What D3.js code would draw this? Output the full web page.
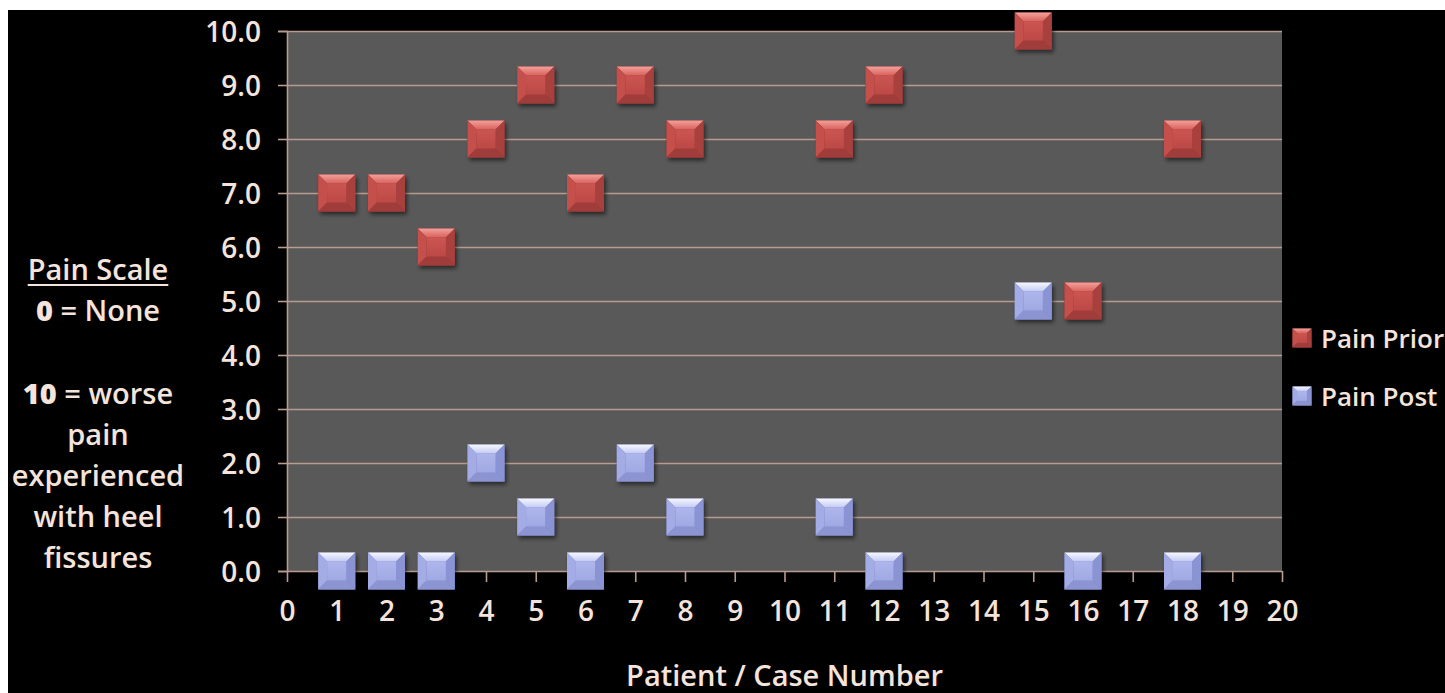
<!DOCTYPE html>
<html><head><meta charset="utf-8">
<script src="https://cdn.jsdelivr.net/npm/d3@7"></script>
<style>
html,body{margin:0;padding:0;background:#ffffff;}
svg{display:block;}
text{font-family:"Open Sans","DejaVu Sans",sans-serif;}
</style></head>
<body>
<svg id="chart" width="1445" height="693"></svg>
<script>
const patients   = [1, 2, 3, 4, 5, 6, 7, 8, 11, 12, 15, 16, 18];
const painPrior  = [7, 7, 6, 8, 9, 7, 9, 8, 8, 9, 10, 5, 8];
const painPost   = [0, 0, 0, 2, 1, 0, 2, 1, 1, 0, 5, 0, 0];
const xTicks = d3.range(0, 21);
const yTicks = [0,1,2,3,4,5,6,7,8,9,10];
const seriesNames = ["Pain Prior", "Pain Post"];
const noteLines = [
  {bold:"", rest:"Pain Scale", underline:true},
  {bold:"0", rest:" = None"},
  {bold:"", rest:""},
  {bold:"10", rest:" = worse"},
  {bold:"", rest:"pain"},
  {bold:"", rest:"experienced"},
  {bold:"", rest:"with heel"},
  {bold:"", rest:"fissures"}
];

const TXT = "#f4e4dc";
const GRID = "#b89c90";
const svg = d3.select("#chart");

svg.append("rect").attr("x",8).attr("y",10).attr("width",1437).attr("height",683).attr("fill","#000");

const x = d3.scaleLinear().domain([0,20]).range([287,1282]);
const y = d3.scaleLinear().domain([0,10]).range([571,31]);

const defs = svg.append("defs");
const f = defs.append("filter").attr("id","shadow").attr("x","-30%").attr("y","-30%").attr("width","170%").attr("height","170%");
f.append("feDropShadow").attr("dx",2).attr("dy",3).attr("stdDeviation",2.2).attr("flood-color","#000").attr("flood-opacity",0.55);

function grad(id, c1, c2){
  const g = defs.append("linearGradient").attr("id",id).attr("x1",0).attr("y1",0).attr("x2",0).attr("y2",1);
  g.append("stop").attr("offset","0%").attr("stop-color",c1);
  g.append("stop").attr("offset","100%").attr("stop-color",c2);
}
grad("redTop","#f4a09a","#d8625d");
grad("blueTop","#f6f8ff","#c4cbf4");
grad("redBody","#cc5551","#bc4946");
grad("blueBody","#aeb6ec","#a0a9e3");

svg.append("rect").attr("x",x(0)).attr("y",y(10)).attr("width",x(20)-x(0)).attr("height",y(0)-y(10)).attr("fill","#595959");

svg.append("g").attr("transform",`translate(${x(0)},0)`)
  .call(d3.axisLeft(y).tickValues(yTicks.filter(v=>v>0)).tickSize(-(x(20)-x(0))).tickFormat(""))
  .call(g=>g.select(".domain").remove())
  .call(g=>g.selectAll("line").attr("stroke",GRID).attr("stroke-width",1.6));

const ya = svg.append("g").attr("transform",`translate(${x(0)},0)`)
  .call(d3.axisLeft(y).tickValues(yTicks).tickSize(9).tickPadding(17).tickFormat(d3.format(".1f")));
ya.select(".domain").attr("stroke",GRID).attr("stroke-width",1.6);
ya.selectAll("line").attr("stroke",GRID).attr("stroke-width",1.6);
ya.selectAll("text").attr("fill",TXT).attr("font-size",28).attr("font-weight",600).attr("dy","0.36em");

const xa = svg.append("g").attr("transform",`translate(0,${y(0)})`)
  .call(d3.axisBottom(x).tickValues(xTicks).tickSize(11).tickPadding(29).tickSizeOuter(0));
xa.select(".domain").attr("stroke",GRID).attr("stroke-width",1.6);
xa.selectAll("line").attr("stroke",GRID).attr("stroke-width",1.6);
xa.selectAll("text").attr("fill",TXT).attr("font-size",28).attr("font-weight",600).attr("dy","0.36em");

svg.append("text").attr("x",(x(0)+x(20))/2).attr("y",686).attr("text-anchor","middle")
  .attr("fill",TXT).attr("font-size",29).attr("font-weight",600).text("Patient / Case Number");

const pal = {
  red:  {top:"url(#redTop)", body:"url(#redBody)", left:"#c44f4b", right:"#a8413e", bottom:"#a03d3a", edge:"#8e3431"},
  blue: {top:"url(#blueTop)", body:"url(#blueBody)", left:"#a4ace6", right:"#8a94d4", bottom:"#8c95d2", edge:"#6f79bd"}
};
function marker(g, s, p){
  const h = s/2, b = s*0.24;
  g.append("rect").attr("x",-h).attr("y",-h).attr("width",s).attr("height",s).attr("fill",p.edge).attr("filter","url(#shadow)");
  g.append("path").attr("d",`M${-h},${-h}L${h},${-h}L${h-b},${-h+b}L${-h+b},${-h+b}Z`).attr("fill",p.top);
  g.append("path").attr("d",`M${-h},${-h}L${-h+b},${-h+b}L${-h+b},${h-b}L${-h},${h}Z`).attr("fill",p.left);
  g.append("path").attr("d",`M${h},${-h}L${h-b},${-h+b}L${h-b},${h-b}L${h},${h}Z`).attr("fill",p.right);
  g.append("path").attr("d",`M${-h},${h}L${-h+b},${h-b}L${h-b},${h-b}L${h},${h}Z`).attr("fill",p.bottom);
  g.append("rect").attr("x",-h+b).attr("y",-h+b).attr("width",s-2*b).attr("height",s-2*b).attr("fill",p.body);
}

const series = [
  {name:seriesNames[0], vals:painPrior, pal:pal.red},
  {name:seriesNames[1], vals:painPost, pal:pal.blue}
];
series.forEach(sr=>{
  svg.append("g").selectAll("g").data(patients.map((p,i)=>({p, v:sr.vals[i]}))).join("g")
    .attr("transform",d=>`translate(${x(d.p)},${y(d.v)})`)
    .each(function(){ marker(d3.select(this), 37, sr.pal); });
});

svg.append("rect").attr("x",0).attr("y",0).attr("width",1445).attr("height",10).attr("fill","#fff");

series.forEach((sr,i)=>{
  const cy = 338 + i*58;
  const g = svg.append("g").attr("transform",`translate(1302,${cy})`);
  marker(g, 19, sr.pal);
  svg.append("text").attr("x",1321).attr("y",cy+10).attr("fill",TXT).attr("font-size",26).attr("font-weight",600).text(sr.name);
});

noteLines.forEach((ln,i)=>{
  const t = svg.append("text").attr("x",98).attr("y",280 + i*41.2).attr("text-anchor","middle")
    .attr("fill",TXT).attr("font-size",29);
  if(ln.bold) t.append("tspan").attr("font-weight",800).text(ln.bold);
  t.append("tspan").attr("font-weight",600).text(ln.rest);
  if(ln.underline){
    const w = t.node().getComputedTextLength();
    svg.append("line").attr("x1",98-w/2).attr("x2",98+w/2).attr("y1",285).attr("y2",285).attr("stroke",TXT).attr("stroke-width",2);
  }
});
</script>
</body></html>
